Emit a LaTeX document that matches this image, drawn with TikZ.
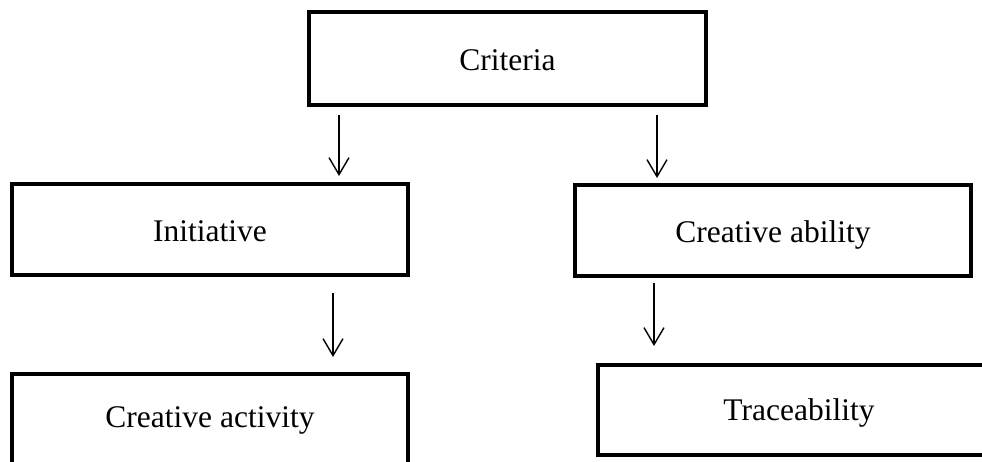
\documentclass[tikz,border=0pt]{standalone}
\usepackage{fontspec}
\setmainfont{Liberation Serif}
\usetikzlibrary{arrows.meta}
\begin{document}
\begin{tikzpicture}[x=1pt,y=-1pt,
  boxnode/.style={draw, line width=4pt, rectangle, inner sep=0pt, font=\fontsize{31.5}{36}\selectfont, text height=25pt, text depth=0pt, minimum width=396pt, minimum height=91pt},
  arr/.style={line width=1.4pt, -{Straight Barb[length=17pt,width=20pt,line width=1.4pt]}}]
\clip (0,0) rectangle (982,462);
\fill[white] (0,0) rectangle (982,462);
\node[boxnode, minimum width=397pt, minimum height=93pt] (crit) at (507.5,58.5) {Criteria};
\node[boxnode] (init) at (210,229.5) {Initiative};
\node[boxnode] (abil) at (773,230.5) {Creative ability};
\node[boxnode, minimum height=120pt] (act) at (210,434) {\raisebox{19.5pt}{Creative activity}};
\node[boxnode, minimum width=402pt, minimum height=90pt, text height=20pt] (trace) at (799,410) {Traceability};
\draw[arr] ([yshift=-8pt]crit.south -| 339,0) -- ([yshift=6pt]init.north -| 339,0);
\draw[arr] ([yshift=-8pt]crit.south -| 657,0) -- ([yshift=5pt]abil.north -| 657,0);
\draw[arr] ([yshift=-16pt]init.south -| 333,0) -- ([yshift=15pt]act.north -| 333,0);
\draw[arr] ([yshift=-5pt]abil.south -| 654,0) -- ([yshift=17pt]trace.north -| 654,0);
\end{tikzpicture}
\end{document}
